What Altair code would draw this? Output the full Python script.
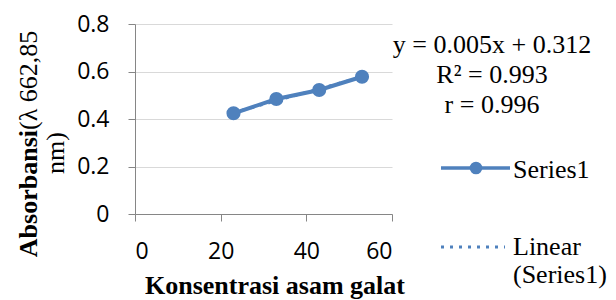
import altair as alt
import pandas as pd

# ---- data ----
conc = [23, 33, 43, 53]
absorb = [0.424, 0.484, 0.522, 0.578]
x_ticks = [0, 20, 40, 60]
y_ticks = [0, 0.2, 0.4, 0.6, 0.8]
eq_lines = ["y = 0.005x + 0.312", "R² = 0.993", "r = 0.996"]
series_name = "Series1"
trend_lines = ["Linear", "(Series1)"]
x_title = "Konsentrasi asam galat"
y_title_bold = "Absorbansi"
y_title_rest = ["(λ 662,85", "nm)"]

BLUE = "#4F81BD"
SERIF = "Liberation Serif"
SANS = "Open Sans"
W, H = 257, 190

df = pd.DataFrame({"x": conc, "y": absorb})
one = pd.DataFrame({"a": [0]})

xs = alt.X("x:Q", scale=alt.Scale(domain=[0, 60], nice=False),
           axis=alt.Axis(values=x_ticks, grid=False, title=None, labelPadding=19))
ys = alt.Y("y:Q", scale=alt.Scale(domain=[0, 0.8], nice=False),
           axis=alt.Axis(values=y_ticks, format="~g", title=None, labelPadding=19,
                         grid=True, gridColor="#D9D9D9", gridWidth=1))

base = alt.Chart(df)
trend = base.transform_regression("x", "y").mark_line(
    color=BLUE, strokeWidth=3, strokeDash=[3, 6]).encode(x=xs, y=ys)
line = base.mark_line(color=BLUE, strokeWidth=4).encode(x=xs, y=ys)
pts = base.mark_point(filled=True, size=200, color=BLUE, opacity=1).encode(x=xs, y=ys)


def txt(t, x, y, **kw):
    return alt.Chart(one).mark_text(text=t, font=SERIF, fontSize=26, color="#000",
                                    baseline="alphabetic", **kw).encode(
        x=alt.value(x), y=alt.value(y))


layers = [trend, line, pts]

# regression annotation
for t, yy in zip(eq_lines, [29, 59, 89]):
    layers.append(txt(t, 357, yy, align="center"))

# legend
layers.append(alt.Chart(one).mark_rule(color=BLUE, strokeWidth=3.5).encode(
    x=alt.value(306), x2=alt.value(375), y=alt.value(144)))
layers.append(alt.Chart(one).mark_point(filled=True, size=160, color=BLUE, opacity=1).encode(
    x=alt.value(341), y=alt.value(144)))
layers.append(txt(series_name, 378, 154, align="left"))
layers.append(alt.Chart(one).mark_rule(color=BLUE, strokeWidth=3, strokeDash=[3, 6]).encode(
    x=alt.value(306), x2=alt.value(370), y=alt.value(223)))
layers.append(txt(trend_lines[0], 378, 231, align="left"))
layers.append(txt(trend_lines[1], 378, 259, align="left"))

# axis titles
layers.append(txt(x_title, 140, 270, align="center", fontWeight="bold"))
layers.append(txt(y_title_bold, -98, 106, align="right", angle=270, fontWeight="bold"))
layers.append(txt(y_title_rest[0], -98, 106, align="left", angle=270))
layers.append(txt(y_title_rest[1], -71, 129, align="center", angle=270))

chart = alt.layer(*layers).properties(
    width=W, height=H,
    padding={"left": 127, "top": 16, "right": 216, "bottom": 86},
    autosize=alt.AutoSizeParams(type="none"),
).configure_view(stroke=None).configure_axis(
    labelFont=SANS, labelFontSize=23, labelColor="#000",
    domainColor="#868686", tickColor="#868686", tickSize=7,
    domainWidth=1, tickWidth=1,
)

chart.save("out.html", embed_options={"renderer": "svg", "actions": False})
